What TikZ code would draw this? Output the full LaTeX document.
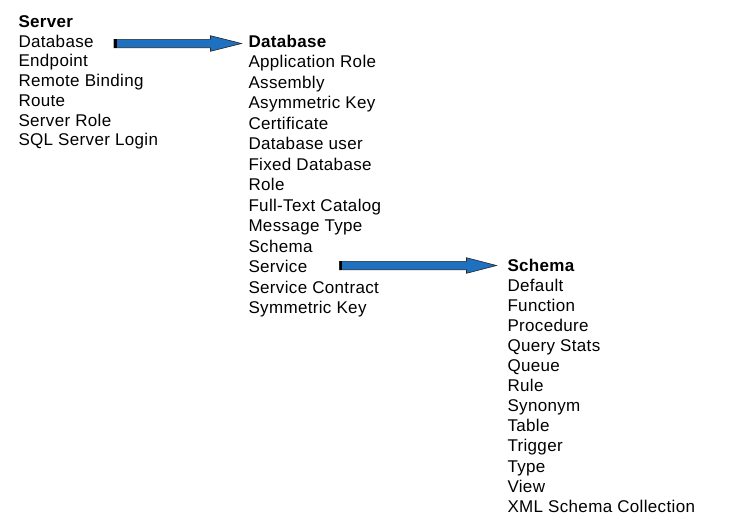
\documentclass[tikz,border=0pt]{standalone}
\usepackage{fontspec}
\setmainfont[LetterSpace=2]{Liberation Sans}
\usetikzlibrary{calc}
\definecolor{arrowblue}{RGB}{30,112,192}
\tikzset{
  item/.style={anchor=base west, inner sep=0pt, outer sep=0pt, font=\fontsize{17}{20}\selectfont},
  head/.style={item, font=\fontsize{17}{20}\selectfont\bfseries},
  blockfill/.style={fill=arrowblue, draw=black!85, line width=0.6pt, line join=miter},
  tailmark/.style={draw=black, line width=2.6pt}
}
\newcommand\blockarrow[3]{%
  \path[blockfill] ($(#1)+(0,-4.2)$) -- ($(#2)+(-#3,-4.2)$) -- ($(#2)+(-#3,-7.8)$) -- (#2)
    -- ($(#2)+(-#3,7.8)$) -- ($(#2)+(-#3,4.2)$) -- ($(#1)+(0,4.2)$) -- cycle;
  \draw[tailmark] ($(#1)+(1.3,-4.2)$) -- ($(#1)+(1.3,4.2)$);
}
\begin{document}
\begin{tikzpicture}[x=1pt,y=-1pt]
\useasboundingbox (0,0) rectangle (734,531);
% column 1
\node[head] (srv) at (18.5,27.5) {Server};
\node[item] (s1) at (18.5,47.2) {Database};
\node[item] (s2) at (18.5,66.9) {Endpoint};
\node[item] (s3) at (18.5,86.6) {Remote Binding};
\node[item] (s4) at (18.5,106.3) {Route};
\node[item] (s5) at (18.5,126.0) {Server Role};
\node[item] (s6) at (18.5,145.7) {SQL Server Login};
% column 2
\node[head] (db) at (248.5,47.3) {Database};
\node[item] (d1) at (248.5,67.8) {Application Role};
\node[item] (d2) at (248.5,88.3) {Assembly};
\node[item] (d3) at (248.5,108.8) {Asymmetric Key};
\node[item] (d4) at (248.5,129.3) {Certificate};
\node[item] (d5) at (248.5,149.8) {Database user};
\node[item] (d6) at (248.5,170.3) {Fixed Database};
\node[item] (d7) at (248.5,190.8) {Role};
\node[item] (d8) at (248.5,211.3) {Full-Text Catalog};
\node[item] (d9) at (248.5,231.8) {Message Type};
\node[item] (d10) at (248.5,252.3) {Schema};
\node[item] (d11) at (248.5,272.8) {Service};
\node[item] (d12) at (248.5,293.3) {Service Contract};
\node[item] (d13) at (248.5,313.8) {Symmetric Key};
% column 3
\node[head] (sc) at (507.5,271.0) {Schema};
\node[item] (c1) at (507.5,291.1) {Default};
\node[item] (c2) at (507.5,311.2) {Function};
\node[item] (c3) at (507.5,331.3) {Procedure};
\node[item] (c4) at (507.5,351.4) {Query Stats};
\node[item] (c5) at (507.5,371.5) {Queue};
\node[item] (c6) at (507.5,391.6) {Rule};
\node[item] (c7) at (507.5,411.7) {Synonym};
\node[item] (c8) at (507.5,431.8) {Table};
\node[item] (c9) at (507.5,451.9) {Trigger};
\node[item] (c10) at (507.5,472.0) {Type};
\node[item] (c11) at (507.5,492.1) {View};
\node[item] (c12) at (507.5,512.2) {XML Schema Collection};
% arrows
\coordinate (a1s) at ($(114,0 |- s1.base west)+(0,-3.7)$);
\coordinate (a1e) at ($(db.base west)+(-7,-3.8)$);
\coordinate (a2s) at ($(339.5,0 |- d11.base west)+(0,-7.3)$);
\coordinate (a2e) at ($(sc.base west)+(-11,-5.5)$);
\blockarrow{a1s}{a1e}{31}
\blockarrow{a2s}{a2e}{30}
\end{tikzpicture}
\end{document}
